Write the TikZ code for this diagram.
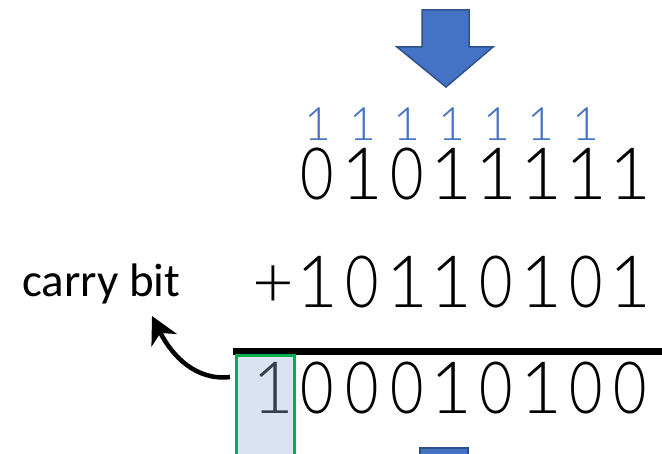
\documentclass[tikz,border=0pt]{standalone}
\usepackage{fontspec}
\setmainfont{Carlito}
\newfontfamily\digitfont{Lato Light}
\newfontfamily\narrowdigitfont{Lato Light}[FakeStretch=0.8]
\usetikzlibrary{arrows.meta}
\definecolor{accent}{HTML}{4472C4}
\definecolor{accentdark}{HTML}{2F528F}
\definecolor{boxfill}{HTML}{DAE3F3}
\definecolor{boxedge}{HTML}{00B050}
\definecolor{slate}{HTML}{333F50}
% zeros are set a little narrower than the ones
\newcommand\bit[1]{\ifnum#1=0 {\narrowdigitfont 0}\else 1\fi}
\tikzset{
  digit/.style={inner sep=0pt, anchor=base, text height=47pt, text depth=0pt, font=\digitfont\fontsize{72}{72}\selectfont},
  carrydigit/.style={inner sep=0pt, anchor=base, text height=30pt, text depth=0pt, text=accent, font=\digitfont\fontsize{46}{46}\selectfont},
  blockarrow/.style={fill=accent, draw=accentdark, line width=1.5pt, line join=miter},
  label/.style={inner sep=0pt, anchor=base west, font=\fontsize{47}{47}\selectfont},
}
\begin{document}
\begin{tikzpicture}[x=1pt,y=-1pt]
\useasboundingbox (0,0) rectangle (662,454);
\clip (0,0) rectangle (662,454);
% column centres
\def\colx#1{273+44.7*#1}
% down arrow at the top
\draw[blockarrow] (422,10) -- (469,10) -- (469,47) -- (493,47) -- (446,87) -- (397,47) -- (422,47) -- cycle;
% shaft of the next arrow, cut by the lower edge
\draw[blockarrow] (420,448) rectangle (468,470);
% carries
\foreach \k in {1,...,7}
  \node[carrydigit] (c\k) at ({\colx{\k}},141) {1};
% first operand
\foreach \d [count=\k] in {0,1,0,1,1,1,1,1}
  \node[digit] (a\k) at ({\colx{\k}},200) {\bit{\d}};
% second operand
\node[digit] (plus) at ({\colx{0}},308) {+};
\foreach \d [count=\k] in {1,0,1,1,0,1,0,1}
  \node[digit] (b\k) at ({\colx{\k}},308) {\bit{\d}};
% sum rule
\draw[line width=7pt] (233,352) coordinate (rulel) -- (662,352) coordinate (ruler);
% highlighted carry-out column
\draw[fill=boxfill, draw=boxedge, line width=3pt] (236,356) rectangle (294,470);
\node[digit, text=slate] (s0) at ({\colx{0}},414) {1};
\foreach \d [count=\k] in {0,0,0,1,0,1,0,0}
  \node[digit] (s\k) at ({\colx{\k}},414) {\bit{\d}};
% label and pointer
\node[label] (carry) at (22,297) {carry bit};
\coordinate (from) at (230,377);
\coordinate (to) at (152,316);
\draw[line width=4.5pt, -{Stealth[length=27pt,width=28pt,inset=8pt]}] (from) .. controls (196,381) and (172,356) .. (to);
\end{tikzpicture}
\end{document}
